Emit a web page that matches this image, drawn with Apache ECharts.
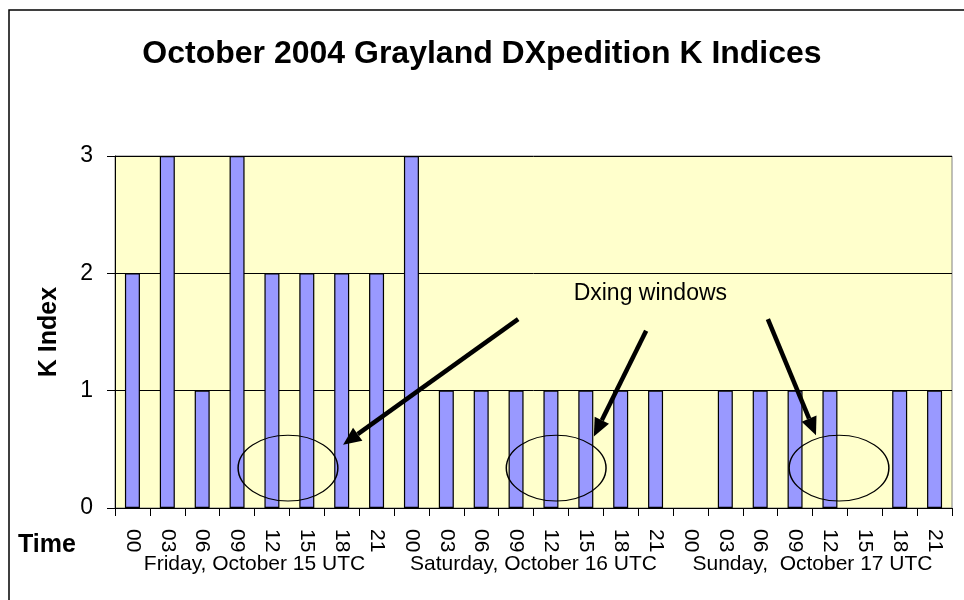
<!DOCTYPE html>
<html>
<head>
<meta charset="utf-8">
<script src="https://cdn.jsdelivr.net/npm/echarts@6/dist/echarts.min.js"></script>
<style>
  html, body { margin: 0; padding: 0; background: #fff; }
  #chart { width: 964px; height: 600px; }
</style>
</head>
<body>
<div id="chart"></div>
<script>
const hours = ["00", "03", "06", "09", "12", "15", "18", "21"];
const days = ["Friday, October 15 UTC", "Saturday, October 16 UTC", "Sunday,  October 17 UTC"];
const fridayK = [2, 3, 1, 3, 2, 2, 2, 2];
const saturdayK = [3, 1, 1, 1, 1, 1, 1, 1];
const sundayK = [0, 1, 1, 1, 1, 0, 1, 1];
const yTicks = [0, 1, 2, 3];

// annotation spots, in (category index, K value) units
const windowCenters = [[4.46, 0.34], [12.15, 0.34], [20.26, 0.34]];
const windowRadius = [1.43, 0.28];
const arrows = [
  [[11.06, 1.61], [6.04, 0.54]],
  [[14.73, 1.51], [13.23, 0.61]],
  [[18.22, 1.61], [19.6, 0.62]],
];
const noteAt = [14.85, 1.83];
const noteText = "Dxing windows";

const categories = days.flatMap(() => hours);
const kValues = [...fridayK, ...saturdayK, ...sundayK];

const chart = echarts.init(document.getElementById("chart"));
const font = "Liberation Sans, Arial, sans-serif";

chart.setOption({
  animation: false,
  textStyle: { fontFamily: font },
  title: {
    text: "October 2004 Grayland DXpedition K Indices",
    left: "center",
    top: 33,
    textStyle: { fontSize: 32, fontWeight: "bold", color: "#000", fontFamily: font },
  },
  grid: {
    left: 115, right: 12, top: 156, bottom: 92,
    show: true, backgroundColor: "#FFFFCC", borderColor: "#808080", borderWidth: 1,
  },
  xAxis: [
    {
      type: "category",
      data: categories,
      axisLine: { lineStyle: { color: "#000", width: 1 } },
      axisTick: { show: true, length: 8, lineStyle: { color: "#000" } },
      axisLabel: { interval: 0, rotate: -90, margin: 21, fontSize: 21, color: "#000", fontFamily: font },
    },
    {
      type: "category",
      position: "bottom",
      data: days,
      axisLine: { show: false },
      axisTick: { show: false },
      axisLabel: { interval: 0, margin: 46, fontSize: 21, color: "#000", fontFamily: font },
    },
  ],
  yAxis: {
    type: "value",
    min: 0,
    max: 3,
    interval: 1,
    name: "K Index",
    nameLocation: "middle",
    nameGap: 53,
    nameTextStyle: { fontSize: 25, fontWeight: "bold", color: "#000", fontFamily: font },
    axisLine: { show: true, lineStyle: { color: "#000" } },
    axisTick: { show: true, length: 8, lineStyle: { color: "#000" } },
    axisLabel: { margin: 22, fontSize: 23, color: "#000", fontFamily: font,
      formatter: (v) => (yTicks.includes(v) ? String(v) : "") },
    splitLine: { lineStyle: { color: "#000", width: 1 } },
  },
  series: [
    {
      type: "bar",
      data: kValues.map((v) => (v === 0 ? { value: v, itemStyle: { borderWidth: 0 } } : v)),
      barWidth: 15,
      itemStyle: { color: "#9999FF", borderColor: "#000", borderWidth: 1.2 },
    },
  ],
});

function toPixel(pt) {
  const a = chart.convertToPixel({ xAxisIndex: 0, yAxisIndex: 0 }, [0, pt[1]]);
  const b = chart.convertToPixel({ xAxisIndex: 0, yAxisIndex: 0 }, [1, pt[1]]);
  return [a[0] + (b[0] - a[0]) * pt[0], a[1]];
}

function arrowGraphics(from, to) {
  const p0 = toPixel(from);
  const p1 = toPixel(to);
  const dx = p1[0] - p0[0];
  const dy = p1[1] - p0[1];
  const len = Math.hypot(dx, dy);
  const ux = dx / len;
  const uy = dy / len;
  const headLen = 18;
  const headHalf = 8;
  const base = [p1[0] - ux * headLen, p1[1] - uy * headLen];
  return [
    {
      type: "line",
      shape: { x1: p0[0], y1: p0[1], x2: base[0], y2: base[1] },
      style: { stroke: "#000", lineWidth: 4.5 },
      z: 100,
    },
    {
      type: "polygon",
      shape: {
        points: [
          p1,
          [base[0] - uy * headHalf, base[1] + ux * headHalf],
          [base[0] + uy * headHalf, base[1] - ux * headHalf],
        ],
      },
      style: { fill: "#000" },
      z: 100,
    },
  ];
}

const unit = toPixel([1, 1]);
const zero = toPixel([0, 0]);
const rxPx = (unit[0] - zero[0]) * windowRadius[0];
const ryPx = (zero[1] - unit[1]) * windowRadius[1];

const elements = [];
windowCenters.forEach((c) => {
  const p = toPixel(c);
  elements.push({
    type: "circle",
    x: p[0],
    y: p[1],
    scaleX: rxPx / ryPx,
    shape: { cx: 0, cy: 0, r: ryPx },
    style: { fill: null, stroke: "#000", lineWidth: 1.5 / (rxPx / ryPx) },
    z: 100,
  });
});
arrows.forEach(([from, to]) => elements.push(...arrowGraphics(from, to)));
const notePx = toPixel(noteAt);
elements.push({
  type: "text",
  x: notePx[0],
  y: notePx[1],
  style: { text: noteText, font: "23px " + font, fill: "#000", textAlign: "center", textVerticalAlign: "middle" },
  z: 100,
});
elements.push({
  type: "text",
  left: 18,
  top: 533,
  style: { text: "Time", font: "bold 25px " + font, fill: "#000" },
});
elements.push({
  type: "rect",
  shape: { x: 9, y: 10, width: 1000, height: 700 },
  style: { fill: null, stroke: "#000", lineWidth: 1.5 },
  silent: true,
});

chart.setOption({ graphic: elements });
</script>
</body>
</html>
